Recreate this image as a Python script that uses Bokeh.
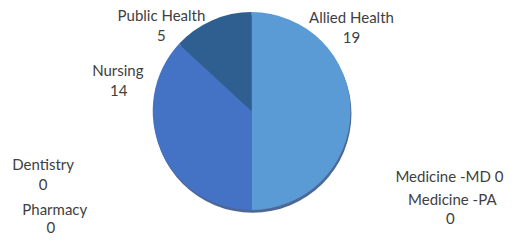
import numpy as np
from bokeh.plotting import figure
from bokeh.models import Range1d, ColumnDataSource
from bokeh.core.properties import value
from bokeh.embed import file_html
from bokeh.resources import INLINE

categories = ["Allied Health", "Nursing", "Public Health", "Dentistry", "Pharmacy", "Medicine -MD", "Medicine -PA"]
counts = [19, 14, 5, 0, 0, 0, 0]
colors = ["#5B9BD5", "#4472C4", "#2F5E91", "#A5A5A5", "#FFC000", "#70AD47", "#264478"]

# label layout (reference-image pixel coords, centre of each text line)
label_lines = ["Allied Health", "19", "Nursing", "14", "Public Health", "5",
               "Dentistry", "0", "Pharmacy", "0", "Medicine -MD 0", "Medicine -PA", "0"]
label_x = [362, 362, 121, 122, 166, 166, 44, 44, 56, 52, 463, 466, 464]
label_y = [18, 40, 74, 96, 15, 37, 175, 196, 223, 242, 187, 212, 233]

W, H = 509, 236
p = figure(width=W, height=H, output_backend="svg", toolbar_location=None,
           x_range=Range1d(0, 525), y_range=Range1d(0, 252),
           min_border=0)
p.axis.visible = False
p.grid.visible = False
p.outline_line_color = None
p.background_fill_color = "white"
p.border_fill_color = "white"

cx, cy, r = 259, 252 - 118, 102

total = sum(counts)
fr = np.array(counts) / total
ends = np.cumsum(fr) * 2 * np.pi
starts = ends - fr * 2 * np.pi
keep = fr > 0
start_angle = (np.pi / 2 - starts)[keep]
end_angle = (np.pi / 2 - ends)[keep]
n = int(keep.sum())
src = ColumnDataSource(dict(cat=[c for c, k in zip(categories, keep) if k], start=start_angle, end=end_angle,
                            color=[c for c, k in zip(colors, keep) if k], x=[cx] * n, y=[cy] * n))

# shadow
p.circle(x=[cx + 1], y=[cy - 3], radius=r, fill_color="#2E4E82", line_color=None, fill_alpha=0.85)
p.wedge(x="x", y="y", radius=r, start_angle="start", end_angle="end", direction="clock",
        fill_color="color", line_color=None, source=src)

lsrc = ColumnDataSource(dict(x=label_x, y=[252 - v for v in label_y], t=label_lines))
p.text(x="x", y="y", text="t", source=lsrc, text_align="center", text_baseline="middle",
       text_font=value("Lato"), text_font_size="15px", text_color="#404040")

open("out.html", "w").write(file_html(p, INLINE))
